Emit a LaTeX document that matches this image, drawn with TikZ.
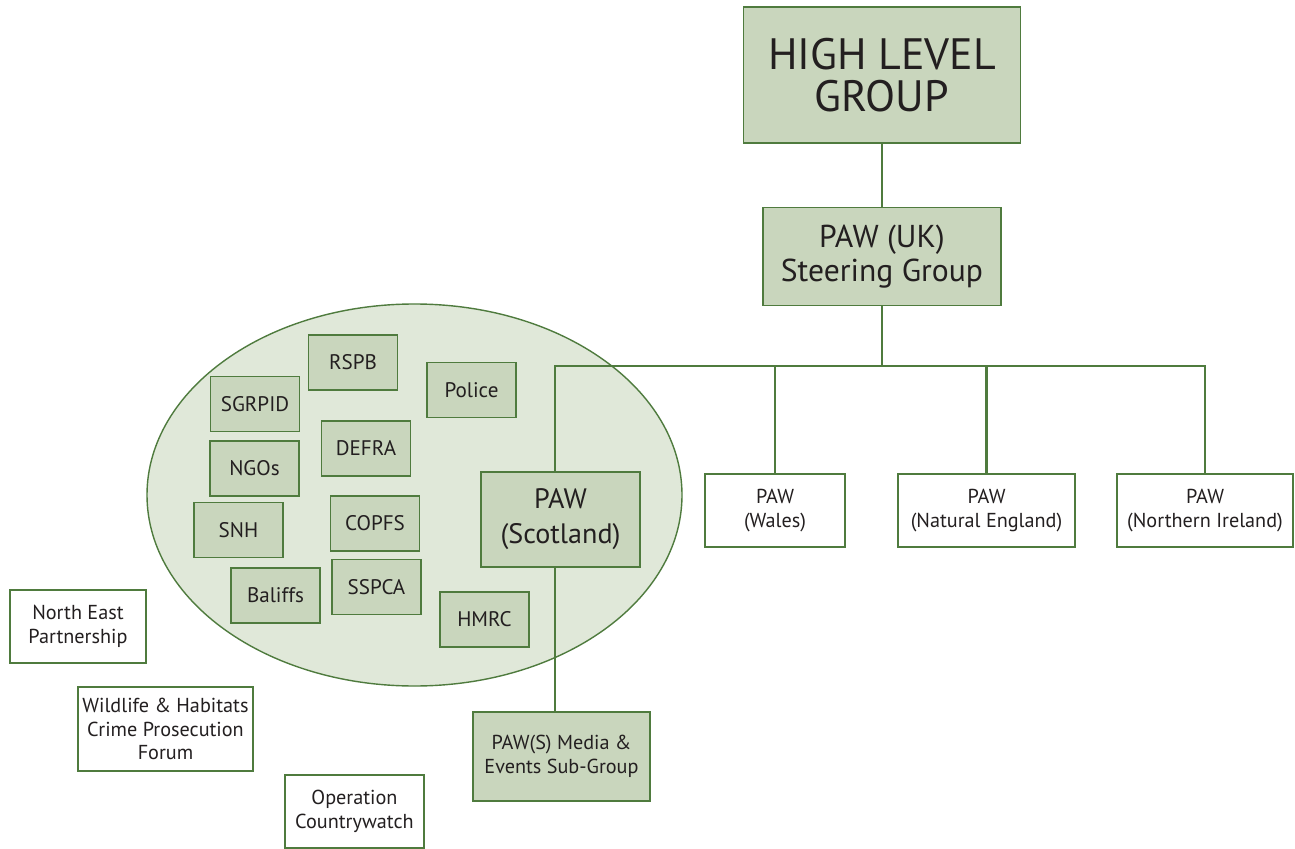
\documentclass[tikz,border=0pt]{standalone}
\usepackage{fontspec}
\setmainfont{PT Sans}
\usetikzlibrary{positioning}
\definecolor{pawline}{HTML}{4F7B3E}
\definecolor{pawfill}{HTML}{C9D6BD}
\definecolor{pawoval}{HTML}{E0E8D9}
\definecolor{pawtext}{HTML}{231F20}

\begin{document}
\begin{tikzpicture}[
    box/.style={draw=pawline, line width=0.8pt, rectangle, fill=pawfill, text=pawtext, align=center, inner sep=2pt},
    member/.style={box, minimum width=1.78cm, minimum height=1.1cm, font=\fontsize{12}{14}\selectfont},
    outer/.style={box, fill=white, minimum height=1.46cm, font=\fontsize{11.5}{13.5}\selectfont},
    link/.style={draw=pawline, line width=1.2pt}]
    \useasboundingbox (0,0) rectangle (25.9,-16.98);

    % Scotland partners
    \draw[draw=pawline, line width=0.8pt, fill=pawoval] (8.29,-9.9) ellipse (5.35cm and 3.82cm);

    \node[box, minimum width=5.54cm, minimum height=2.72cm, font=\fontsize{25}{24}\selectfont] (hlg) at (17.64,-1.5) {HIGH LEVEL\\GROUP};
    \node[box, minimum width=4.76cm, minimum height=1.96cm, font=\fontsize{18}{19.5}\selectfont, below=1.26cm of hlg] (uk) {PAW (UK)\\Steering Group};

    \node[box, minimum width=3.18cm, minimum height=1.9cm, font=\fontsize{16}{20}\selectfont] (scot) at (11.21,-10.39) {PAW\\(Scotland)};
    \node[outer, minimum width=2.8cm] (wales) at (15.5,-10.21) {PAW\\(Wales)};
    \node[outer, minimum width=3.54cm] (eng) at (19.73,-10.21) {PAW\\(Natural England)};
    \node[outer, minimum width=3.52cm] (ni) at (24.1,-10.21) {PAW\\(Northern Ireland)};
    \node[box, minimum width=3.54cm, minimum height=1.78cm, font=\fontsize{11.5}{13.5}\selectfont] (media) at (11.23,-15.13) {PAW(S) Media \&\\Events Sub-Group};

    \node[member] (rspb) at (7.06,-7.25) {RSPB};
    \node[member] (sgrpid) at (5.1,-8.08) {SGRPID};
    \node[member] (police) at (9.43,-7.8) {Police};
    \node[member] (defra) at (7.32,-8.97) {DEFRA};
    \node[member] (ngos) at (5.09,-9.37) {NGOs};
    \node[member] (snh) at (4.77,-10.6) {SNH};
    \node[member] (copfs) at (7.5,-10.47) {COPFS};
    \node[member] (baliffs) at (5.51,-11.91) {Baliffs};
    \node[member] (sspca) at (7.53,-11.74) {SSPCA};
    \node[member] (hmrc) at (9.69,-12.39) {HMRC};

    \node[outer, minimum width=2.72cm] (nep) at (1.56,-12.53) {North East\\Partnership};
    \node[outer, minimum width=3.5cm, minimum height=1.68cm] (whcpf) at (3.31,-14.58) {Wildlife \& Habitats\\Crime Prosecution\\Forum};
    \node[outer, minimum width=2.78cm] (opcw) at (7.09,-16.23) {Operation\\Countrywatch};

    % tree
    \coordinate (bus) at (uk.south |- 0,-7.32);
    \coordinate (stem) at (11.1,-7.32);
    \draw[link] (hlg) -- (uk);
    \draw[link] (uk) -- (bus);
    \draw[link] (scot.north -| stem) -- (stem) -- (bus) -| (ni.north);
    \draw[link] (wales.north) -- (wales.north |- bus);
    \draw[link] (eng.north) -- (eng.north |- bus);
    \draw[link] (scot.south -| stem) -- (media.north -| stem);
\end{tikzpicture}
\end{document}
